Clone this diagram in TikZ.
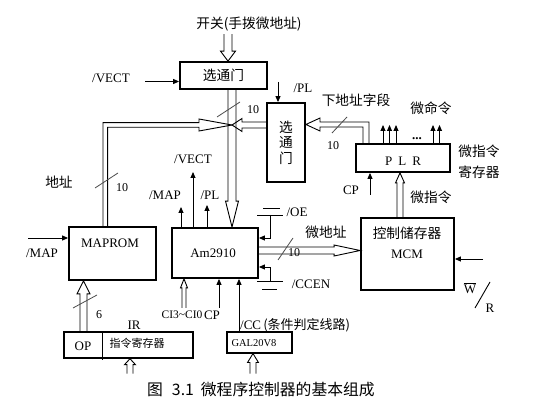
\documentclass[tikz,border=0pt]{standalone}
\usepackage{fontspec}
\setmainfont{Liberation Serif}
\newfontfamily\cjk{Noto Sans CJK SC}
\usetikzlibrary{arrows.meta}
\newcommand{\hollowbus}[6]{%
  \begin{scope}[shift={(#1)}, rotate=#2, x=1pt, y=1pt]
    \draw[bus] (-#3,#6) -- (-#4,#6) -- (-#4,#5) -- (0,0) -- (-#4,-#5) -- (-#4,-#6) -- (-#3,-#6);
  \end{scope}}
\begin{document}
\begin{tikzpicture}[x=1pt,y=-1pt,
  box/.style={draw, line width=1.8pt, inner sep=0pt},
  sig/.style={line width=0.9pt, -{Triangle[length=6pt,width=5pt]}},
  wire/.style={line width=0.9pt},
  bus/.style={line width=0.9pt},
  slashline/.style={line width=0.8pt, black!70},
  lat/.style={font=\fontsize{13}{15}\selectfont, inner sep=0pt},
  cn/.style={font=\fontsize{13.7}{16}\cjk, inner sep=0pt},
  num/.style={font=\fontsize{12}{14}\selectfont, inner sep=0pt},
]
\fill[white] (0,0) rectangle (539,406);
\useasboundingbox (0,0) rectangle (539,406);

% boxes
\node[box, minimum width=87pt, minimum height=27pt, cn] (gtop) at (223.5,75.5) {选通门};
\node[box, minimum width=38pt, minimum height=79pt, align=center, font=\fontsize{13.7}{15.5}\cjk] (gv) at (286,142.5) {选\\通\\门};
\node[box, minimum width=94pt, minimum height=28pt] (plr) at (403,158) {};
\node[box, minimum width=93pt, minimum height=72pt] (mcm) at (407.5,254) {};
\node[box, minimum width=86pt, minimum height=50pt] (am) at (215,253) {};
\node[box, minimum width=87pt, minimum height=53pt] (maprom) at (112.5,253.5) {};
\node[draw, line width=1.4pt, minimum width=129pt, minimum height=26pt] (ir) at (128.5,345) {};
\node[draw, line width=1.1pt, minimum width=65pt, minimum height=21pt] (gal) at (259.5,342.5) {};
\draw[line width=1pt] (ir.north -| 102,0) -- (102,360);

% box texts
\node[lat] (plrtxt) at (403,161) {P\hspace{6pt}L\hspace{6pt}R};
\node[cn] (mcmtxt1) at (407,233) {控制储存器};
\node[lat] (mcmtxt2) at (407,254) {MCM};
\node[lat] (amtxt) at (213,253) {Am2910};
\node[lat] (maptxt) at (110,243) {MAPROM};
\node[lat] (optxt) at (83,346) {OP};
\node[cn, font=\fontsize{11}{13}\cjk] (irtxt) at (137,343) {指令寄存器};
\node[font=\fontsize{10.5}{12}\selectfont, inner sep=0pt] (galtxt) at (254,343) {GAL20V8};

% hollow buses
\hollowbus{gtop.north -| 228,0}{-90}{27}{10}{7.5}{4}
\hollowbus{am.north -| 232,0}{-90}{139}{26}{6.5}{4}
\hollowbus{232,125}{180}{35}{10}{6.5}{3}
\draw[bus] (maprom.north -| 103,0) -- (103,122.7) -- (199,122.7) -- (199,119) -- (232,125) -- (199,131) -- (199,127.3) -- (107.6,127.3) -- (maprom.north -| 107.6,0);
\draw[bus] (plr.north -| 369,0) -- (369,122) -- (320,122) -- (320,118) -- (gv.east |- 0,124.5) -- (320,131) -- (320,127) -- (363,127) -- (plr.north -| 363,0);
\hollowbus{mcm.west |- 0,250.5}{0}{103}{26}{5.5}{3.5}
\hollowbus{plr.south -| 400,0}{90}{46}{10}{4.5}{3}
\hollowbus{maprom.south -| 83.5,0}{90}{52}{13}{6.5}{3.5}
\hollowbus{am.south -| 184,0}{90}{29}{9}{3.5}{2}
\hollowbus{ir.south -| 130,0}{90}{15}{6}{5.5}{3}
\hollowbus{gal.south -| 253,0}{90}{20}{9}{5.5}{3}

% bus width marks
\draw[slashline] (217,117) -- (240,102);
\draw[slashline] (332,133) -- (347,117);
\draw[slashline] (95,188) -- (118,173);
\draw[slashline] (278,260) -- (293,238);
\draw[slashline] (73,308) -- (97,295);

% signal arrows
\coordinate (vectin) at (145,81.5);
\draw[sig] (vectin) -- (vectin -| gtop.west);
\coordinate (plin) at (278,82);
\draw[sig] (plin) -- (plin |- gv.north);
\coordinate (mapin) at (28,238);
\draw[sig] (mapin) -- (mapin -| maprom.west);
\coordinate (mapout) at (181,207);
\draw[sig] (mapout |- am.north) -- (mapout);
\coordinate (vectout) at (193,172);
\draw[sig] (vectout |- am.north) -- (vectout);
\coordinate (plout) at (207,205);
\draw[sig] (plout |- am.north) -- (plout);
% /OE tied
\coordinate (oeg) at (270,215);
\coordinate (oeJ) at (270,238);
\draw[sig] (oeg) -- (oeJ) -- (oeJ -| am.east);
\draw[wire] (257,215) -- (283,215);
\draw[wire] (263,208) -- (280,208);
% /CCEN tied
\coordinate (ccg) at (270,281);
\coordinate (ccJ) at (270,267);
\draw[sig] (ccg) -- (ccJ) -- (ccJ -| am.east);
\draw[wire] (257,281) -- (283,281);
\draw[wire] (262,289) -- (277,289);
% bottom of Am2910
\coordinate (cpam) at (219,308);
\draw[sig] (cpam) -- (cpam |- am.south);
\draw[sig] (gal.north -| 239,0) -- (am.south -| 239,0);
% PLR
\coordinate (cpplr) at (370,195);
\draw[sig] (cpplr) -- (cpplr |- plr.south);
\foreach \xx in {383,389.5,396,433,439.5}
  \draw[sig] (plr.north -| \xx,0) -- (\xx,125);
% W/R
\coordinate (wr) at (483,259);
\draw[sig] (wr) -- (wr -| mcm.east);
\draw[wire] (475,308) -- (490,282);

% labels
\node[cn] (swtxt) at (249,24) {开关(手拨微地址)};
\node[lat] (vect1) at (111,78) {/VECT};
\node[num] (n10a) at (253,110) {10};
\node[lat] (pl1) at (303,88) {/PL};
\node[cn] (nxt) at (356,100) {下地址字段};
\node[num] (n10b) at (333,146) {10};
\node[cn] (wml) at (431,108) {微命令};
\node[lat, font=\bfseries\fontsize{13}{15}\selectfont, anchor=base] (dots) at (417,140) {...};
\node[cn] (wzl1) at (479,151) {微指令};
\node[cn] (wzl2) at (479,172) {寄存器};
\node[lat] (cp1) at (351,190) {CP};
\node[cn] (wzl3) at (431,197) {微指令};
\node[cn] (dz) at (59,182) {地址};
\node[num] (n10c) at (122,188) {10};
\node[lat] (vect2) at (193,159) {/VECT};
\node[lat] (map2) at (165,195) {/MAP};
\node[lat] (pl2) at (210,195) {/PL};
\node[lat] (map1) at (42,253) {/MAP};
\node[lat] (oe) at (297,212) {/OE};
\node[cn] (wdz) at (326,232) {微地址};
\node[num] (n10d) at (294,253) {10};
\node[lat] (ccen) at (311,284) {/CCEN};
\node[lat] (wtxt) at (470,288) {$\overline{\mbox{W}}$};
\node[lat] (rtxt) at (490,308) {R};
\node[num] (n6) at (99,315) {6};
\node[lat] (irlab) at (134,325) {IR};
\node[lat, font=\fontsize{11.5}{13}\selectfont] (ci) at (182,315) {CI3\textasciitilde CI0};
\node[lat] (cp2) at (212,315) {CP};
\node[lat, anchor=west] (cc) at (240,325) {/CC\,{\cjk (条件判定线路)}};
\node[cn, font=\fontsize{15.8}{18}\cjk, anchor=west] (cap) at (147,390) {图\hspace{9pt}3.1\hspace{7pt}微程序控制器的基本组成};
\end{tikzpicture}
\end{document}
